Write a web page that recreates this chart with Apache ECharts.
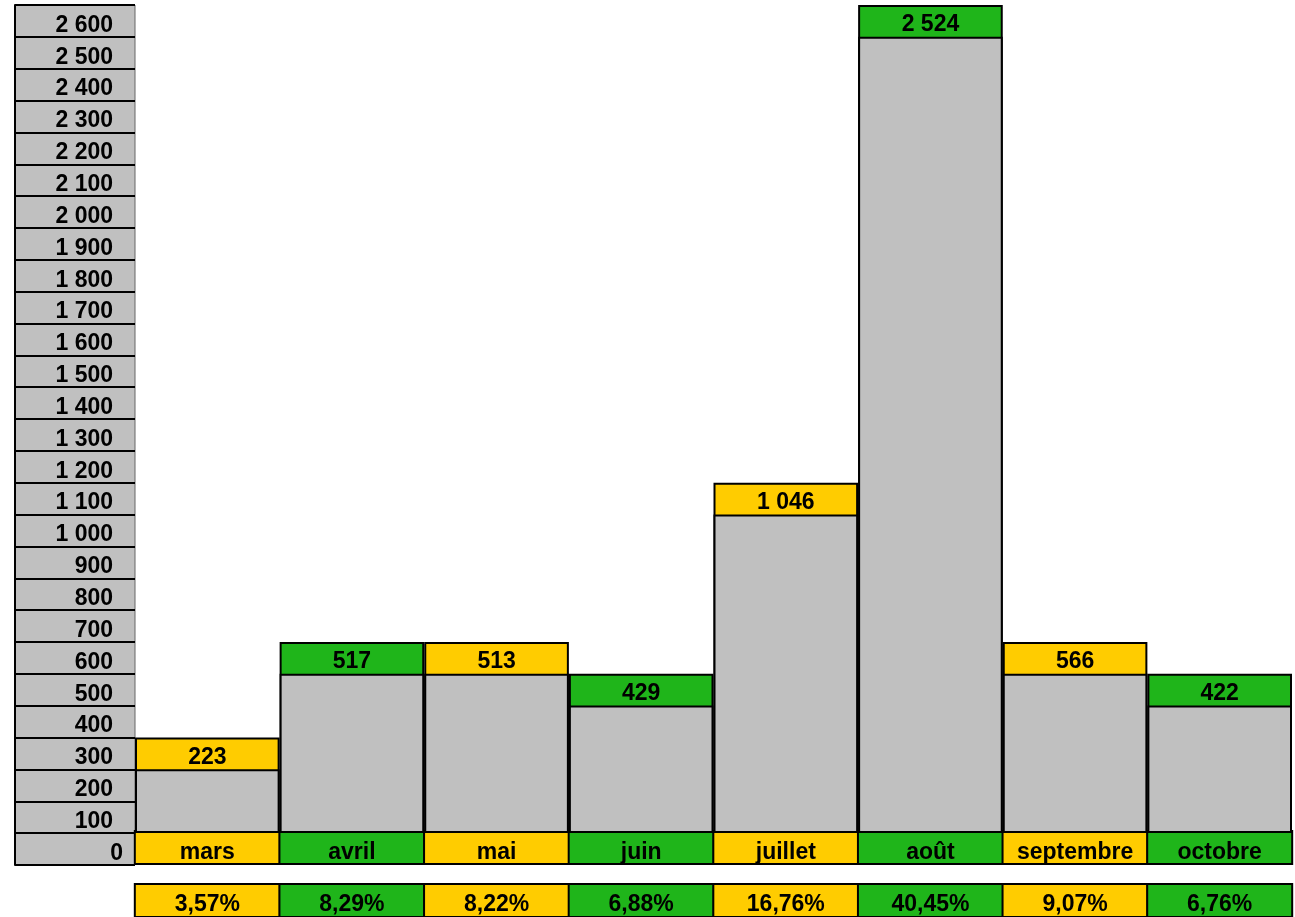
<!DOCTYPE html>
<html>
<head>
<meta charset="utf-8">
<script src="https://cdn.jsdelivr.net/npm/echarts@6/dist/echarts.min.js"></script>
<style>
html,body{margin:0;padding:0;background:#fff;}
#chart{width:1295px;height:917px;}
</style>
</head>
<body>
<div id="chart"></div>
<script>
// ---- data ----
var categories = ['mars', 'avril', 'mai', 'juin', 'juillet', 'août', 'septembre', 'octobre'];
var values = [223, 517, 513, 429, 1046, 2524, 566, 422];
var percents = ['3,57%', '8,29%', '8,22%', '6,88%', '16,76%', '40,45%', '9,07%', '6,76%'];
// gray column level and top of the coloured value box, as drawn
var grayLevels = [200, 500, 500, 400, 1000, 2500, 500, 400];
var boxTops = [300, 600, 600, 500, 1100, 2600, 600, 500];
var yMin = -100, yMax = 2600, yStep = 100;

var YELLOW = '#FFCC00', GREEN = '#1FB51A', GRAY = '#C0C0C0';
var FONT = '"Liberation Sans", Arial, sans-serif';
var FS = 23;

function fmt(n) { return String(n).replace(/\B(?=(\d{3})+(?!\d))/g, ' '); }
function colorAt(i) { return i % 2 === 0 ? YELLOW : GREEN; }

var cellStyle = function (bg, padTop, h) {
  return {
    backgroundColor: bg, width: 143, height: h, lineHeight: h, align: 'center',
    padding: [padTop, 0, 0, 0],
    borderColor: '#000', borderWidth: 2,
    fontFamily: FONT, fontWeight: 'bold', fontSize: FS, color: '#000'
  };
};

var chart = echarts.init(document.getElementById('chart'), null, { renderer: 'canvas' });

var option = {
  animation: false,
  backgroundColor: '#fff',
  grid: [
    { left: 135, right: 3, top: 5, bottom: 84, containLabel: false, outerBoundsMode: 'none' },
    { left: 15, width: 120, top: 5, bottom: 52, containLabel: false, outerBoundsMode: 'none',
      show: true, backgroundColor: GRAY, borderColor: '#666', borderWidth: 1 }
  ],
  xAxis: [
    {
      type: 'category', gridIndex: 0, data: categories, position: 'bottom',
      axisLine: { show: false }, axisTick: { show: false },
      axisLabel: {
        interval: 0, margin: 4,
        formatter: function (v, i) { return '{' + (i % 2 === 0 ? 'y' : 'g') + '|' + v + '}'; },
        rich: { y: cellStyle(YELLOW, 10, 21), g: cellStyle(GREEN, 10, 21) }
      }
    },
    {
      type: 'category', gridIndex: 0, data: percents, position: 'bottom', offset: 52,
      axisLine: { show: false }, axisTick: { show: false },
      axisLabel: {
        interval: 0, margin: 4,
        formatter: function (v, i) { return '{' + (i % 2 === 0 ? 'y' : 'g') + '|' + v + '}'; },
        rich: { y: cellStyle(YELLOW, 8, 23), g: cellStyle(GREEN, 8, 23) }
      }
    },
    { type: 'value', gridIndex: 1, show: false, min: 0, max: 1 }
  ],
  yAxis: [
    { type: 'value', gridIndex: 0, min: 0, max: 2600, interval: yStep, show: false },
    {
      type: 'value', gridIndex: 1, min: yMin, max: yMax, interval: yStep, position: 'right',
      axisLine: { show: true, lineStyle: { color: '#000', width: 2 } },
      axisTick: { show: false },
      splitLine: { show: true, lineStyle: { color: '#000', width: 2 } },
      axisLabel: {
        inside: true, margin: 12, verticalAlign: 'bottom', showMinLabel: true, showMaxLabel: true,
        formatter: function (v) {
          if (v >= yMax) return '';
          var t = fmt(v + yStep);
          return v + yStep === 0 ? '{z|' + t + '}' : '{n|' + t + '}';
        },
        rich: {
          n: { fontFamily: FONT, fontWeight: 'bold', fontSize: FS, color: '#000', lineHeight: 23, padding: [0, 10, 0, 0] },
          z: { fontFamily: FONT, fontWeight: 'bold', fontSize: FS, color: '#000', lineHeight: 23 }
        }
      }
    }
  ],
  series: [
    {
      type: 'bar', xAxisIndex: 0, yAxisIndex: 0, barCategoryGap: 0, barGap: '-100%',
      data: boxTops.map(function (v, i) {
        return { value: v, itemStyle: { color: colorAt(i) } };
      }),
      itemStyle: { borderColor: '#000', borderWidth: 2 },
      label: {
        show: true, position: 'insideTop', distance: 8,
        formatter: function (p) { return fmt(values[p.dataIndex]); },
        fontFamily: FONT, fontWeight: 'bold', fontSize: FS, color: '#000', lineHeight: 24
      },
      z: 2
    },
    {
      type: 'bar', xAxisIndex: 0, yAxisIndex: 0, barCategoryGap: 0, barGap: '-100%',
      data: grayLevels,
      itemStyle: { color: GRAY, borderColor: '#000', borderWidth: 2 },
      z: 3
    }
  ]
};
chart.setOption(option);
</script>
</body>
</html>
